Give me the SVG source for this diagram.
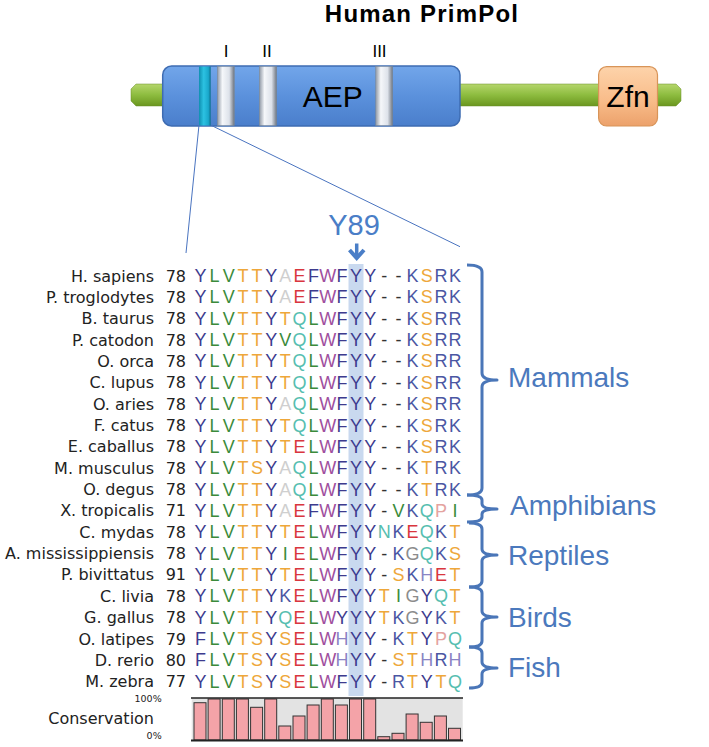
<svg xmlns="http://www.w3.org/2000/svg" width="709" height="747" viewBox="0 0 709 747">
<defs>
<linearGradient id="blueG" x1="0" y1="0" x2="0" y2="1"><stop offset="0" stop-color="#72a6ea"/><stop offset="0.5" stop-color="#5b91dc"/><stop offset="1" stop-color="#4a7ecb"/></linearGradient>
<linearGradient id="greyG" x1="0" y1="0" x2="1" y2="0"><stop offset="0" stop-color="#8f98a5"/><stop offset="0.3" stop-color="#f5f7fa"/><stop offset="0.7" stop-color="#dde2ea"/><stop offset="1" stop-color="#6c7480"/></linearGradient>
<linearGradient id="tealG" x1="0" y1="0" x2="1" y2="0"><stop offset="0" stop-color="#0f8fb0"/><stop offset="0.4" stop-color="#2cc2e2"/><stop offset="0.8" stop-color="#1aa8cc"/><stop offset="1" stop-color="#0b6f8c"/></linearGradient>
<linearGradient id="greenG" x1="0" y1="0" x2="0" y2="1"><stop offset="0" stop-color="#b5d66c"/><stop offset="0.5" stop-color="#8dbc3f"/><stop offset="1" stop-color="#6a961f"/></linearGradient>
<linearGradient id="zfnG" x1="0" y1="0" x2="0" y2="1"><stop offset="0" stop-color="#fdd3aa"/><stop offset="0.6" stop-color="#f8bb88"/><stop offset="1" stop-color="#eca16b"/></linearGradient>
</defs>
<style>
.lbl{font-family:"DejaVu Sans",sans-serif;font-size:16px;fill:#222}
.num{font-family:"DejaVu Sans",sans-serif;font-size:16px;fill:#222;text-anchor:end}
.aa{font-family:"Liberation Sans",Arial,sans-serif;font-size:18px;text-anchor:middle}
.Y,.F{fill:#3d3b8e}
.L,.V,.I{fill:#3b8b3b}
.T,.S{fill:#eea73a}
.A{fill:#cfcfcf}
.E{fill:#d9363e}
.W{fill:#a04f9e}
.K,.R{fill:#4b57a3}
.Q,.N{fill:#56beb0}
.G{fill:#8c8c8c}
.P{fill:#e4a3a0}
.H{fill:#8a84c4}
.g{fill:#333}
.grp{font-family:"Liberation Sans",Arial,sans-serif;font-size:28px;fill:#4b79bd}
.brace{fill:none;stroke:#4a76b8;stroke-width:3;stroke-linejoin:round}
.zl{stroke:#4a74c0;stroke-width:1;fill:none}
.bar{fill:#f4a3a8;stroke:#333;stroke-width:1}
.band{stroke:#7d8794;stroke-width:0.5}
</style>
<rect width="709" height="747" fill="#fff"/>

<g id="title"><text x="422" y="22" font-family="Liberation Sans,Arial,sans-serif" font-size="24" font-weight="bold" letter-spacing="1.2" text-anchor="middle" fill="#000">Human PrimPol</text></g>

<g id="protein">
<path d="M136,84 L676,84 L681,89 L681,101 L676,106 L136,106 L131,101 L131,89 Z" fill="url(#greenG)" stroke="#6a8f2a" stroke-width="0.5"/>
<rect x="162.7" y="66" width="297.3" height="60" rx="9" fill="url(#blueG)" stroke="#3e6cb2" stroke-width="1.5"/>
<rect x="199" y="66.5" width="11.7" height="59" fill="url(#tealG)"/>
<rect x="217.3" y="66.5" width="17" height="59" fill="url(#greyG)" class="band"/>
<rect x="259.3" y="66.5" width="17.4" height="59" fill="url(#greyG)" class="band"/>
<rect x="375.7" y="66.5" width="17" height="59" fill="url(#greyG)" class="band"/>
<text x="332.7" y="107" font-family="Liberation Sans,Arial,sans-serif" font-size="30" text-anchor="middle" fill="#000">AEP</text>
<g font-family="Liberation Sans,Arial,sans-serif" font-size="17" text-anchor="middle" fill="#000">
<text x="226" y="57">I</text><text x="267" y="57">II</text><text x="379.5" y="57">III</text>
</g>
<rect x="598.6" y="66.7" width="58.9" height="59.3" rx="8" fill="url(#zfnG)" stroke="#d89458" stroke-width="1.2"/>
<text x="628" y="107" font-family="Liberation Sans,Arial,sans-serif" font-size="30" text-anchor="middle" fill="#000">Zfn</text>
</g>

<g id="highlight"><rect x="348.5" y="264" width="15" height="432" fill="#c9d9ef"/></g>

<g id="alignment">
<g id="row-h-sapiens"><text class="lbl" x="154" y="281.5" text-anchor="end">H. sapiens</text><text class="num" x="186" y="281.5">78</text><text class="aa" y="282" x="200.5 214.6 228.8 242.9 257.1 271.2 285.3 299.5 313.6 327.8 341.9 356 370.2 384.3 398.5 412.6 426.7 440.9 455"><tspan class="Y">Y</tspan><tspan class="L">L</tspan><tspan class="V">V</tspan><tspan class="T">T</tspan><tspan class="T">T</tspan><tspan class="Y">Y</tspan><tspan class="A">A</tspan><tspan class="E">E</tspan><tspan class="F">F</tspan><tspan class="W">W</tspan><tspan class="F">F</tspan><tspan class="Y">Y</tspan><tspan class="Y">Y</tspan><tspan class="g">-</tspan><tspan class="g">-</tspan><tspan class="K">K</tspan><tspan class="S">S</tspan><tspan class="R">R</tspan><tspan class="K">K</tspan></text></g>
<g id="row-p-troglodytes"><text class="lbl" x="154" y="302.9" text-anchor="end">P. troglodytes</text><text class="num" x="186" y="302.9">78</text><text class="aa" y="303.4" x="200.5 214.6 228.8 242.9 257.1 271.2 285.3 299.5 313.6 327.8 341.9 356 370.2 384.3 398.5 412.6 426.7 440.9 455"><tspan class="Y">Y</tspan><tspan class="L">L</tspan><tspan class="V">V</tspan><tspan class="T">T</tspan><tspan class="T">T</tspan><tspan class="Y">Y</tspan><tspan class="A">A</tspan><tspan class="E">E</tspan><tspan class="F">F</tspan><tspan class="W">W</tspan><tspan class="F">F</tspan><tspan class="Y">Y</tspan><tspan class="Y">Y</tspan><tspan class="g">-</tspan><tspan class="g">-</tspan><tspan class="K">K</tspan><tspan class="S">S</tspan><tspan class="R">R</tspan><tspan class="K">K</tspan></text></g>
<g id="row-b-taurus"><text class="lbl" x="154" y="324.2" text-anchor="end">B. taurus</text><text class="num" x="186" y="324.2">78</text><text class="aa" y="324.7" x="200.5 214.6 228.8 242.9 257.1 271.2 285.3 299.5 313.6 327.8 341.9 356 370.2 384.3 398.5 412.6 426.7 440.9 455"><tspan class="Y">Y</tspan><tspan class="L">L</tspan><tspan class="V">V</tspan><tspan class="T">T</tspan><tspan class="T">T</tspan><tspan class="Y">Y</tspan><tspan class="T">T</tspan><tspan class="Q">Q</tspan><tspan class="L">L</tspan><tspan class="W">W</tspan><tspan class="F">F</tspan><tspan class="Y">Y</tspan><tspan class="Y">Y</tspan><tspan class="g">-</tspan><tspan class="g">-</tspan><tspan class="K">K</tspan><tspan class="S">S</tspan><tspan class="R">R</tspan><tspan class="R">R</tspan></text></g>
<g id="row-p-catodon"><text class="lbl" x="154" y="345.6" text-anchor="end">P. catodon</text><text class="num" x="186" y="345.6">78</text><text class="aa" y="346.1" x="200.5 214.6 228.8 242.9 257.1 271.2 285.3 299.5 313.6 327.8 341.9 356 370.2 384.3 398.5 412.6 426.7 440.9 455"><tspan class="Y">Y</tspan><tspan class="L">L</tspan><tspan class="V">V</tspan><tspan class="T">T</tspan><tspan class="T">T</tspan><tspan class="Y">Y</tspan><tspan class="V">V</tspan><tspan class="Q">Q</tspan><tspan class="L">L</tspan><tspan class="W">W</tspan><tspan class="F">F</tspan><tspan class="Y">Y</tspan><tspan class="Y">Y</tspan><tspan class="g">-</tspan><tspan class="g">-</tspan><tspan class="K">K</tspan><tspan class="S">S</tspan><tspan class="R">R</tspan><tspan class="R">R</tspan></text></g>
<g id="row-o-orca"><text class="lbl" x="154" y="366.9" text-anchor="end">O. orca</text><text class="num" x="186" y="366.9">78</text><text class="aa" y="367.4" x="200.5 214.6 228.8 242.9 257.1 271.2 285.3 299.5 313.6 327.8 341.9 356 370.2 384.3 398.5 412.6 426.7 440.9 455"><tspan class="Y">Y</tspan><tspan class="L">L</tspan><tspan class="V">V</tspan><tspan class="T">T</tspan><tspan class="T">T</tspan><tspan class="Y">Y</tspan><tspan class="T">T</tspan><tspan class="Q">Q</tspan><tspan class="L">L</tspan><tspan class="W">W</tspan><tspan class="F">F</tspan><tspan class="Y">Y</tspan><tspan class="Y">Y</tspan><tspan class="g">-</tspan><tspan class="g">-</tspan><tspan class="K">K</tspan><tspan class="S">S</tspan><tspan class="R">R</tspan><tspan class="R">R</tspan></text></g>
<g id="row-c-lupus"><text class="lbl" x="154" y="388.3" text-anchor="end">C. lupus</text><text class="num" x="186" y="388.3">78</text><text class="aa" y="388.8" x="200.5 214.6 228.8 242.9 257.1 271.2 285.3 299.5 313.6 327.8 341.9 356 370.2 384.3 398.5 412.6 426.7 440.9 455"><tspan class="Y">Y</tspan><tspan class="L">L</tspan><tspan class="V">V</tspan><tspan class="T">T</tspan><tspan class="T">T</tspan><tspan class="Y">Y</tspan><tspan class="T">T</tspan><tspan class="Q">Q</tspan><tspan class="L">L</tspan><tspan class="W">W</tspan><tspan class="F">F</tspan><tspan class="Y">Y</tspan><tspan class="Y">Y</tspan><tspan class="g">-</tspan><tspan class="g">-</tspan><tspan class="K">K</tspan><tspan class="S">S</tspan><tspan class="R">R</tspan><tspan class="R">R</tspan></text></g>
<g id="row-o-aries"><text class="lbl" x="154" y="409.6" text-anchor="end">O. aries</text><text class="num" x="186" y="409.6">78</text><text class="aa" y="410.1" x="200.5 214.6 228.8 242.9 257.1 271.2 285.3 299.5 313.6 327.8 341.9 356 370.2 384.3 398.5 412.6 426.7 440.9 455"><tspan class="Y">Y</tspan><tspan class="L">L</tspan><tspan class="V">V</tspan><tspan class="T">T</tspan><tspan class="T">T</tspan><tspan class="Y">Y</tspan><tspan class="A">A</tspan><tspan class="Q">Q</tspan><tspan class="L">L</tspan><tspan class="W">W</tspan><tspan class="F">F</tspan><tspan class="Y">Y</tspan><tspan class="Y">Y</tspan><tspan class="g">-</tspan><tspan class="g">-</tspan><tspan class="K">K</tspan><tspan class="S">S</tspan><tspan class="R">R</tspan><tspan class="R">R</tspan></text></g>
<g id="row-f-catus"><text class="lbl" x="154" y="431" text-anchor="end">F. catus</text><text class="num" x="186" y="431">78</text><text class="aa" y="431.5" x="200.5 214.6 228.8 242.9 257.1 271.2 285.3 299.5 313.6 327.8 341.9 356 370.2 384.3 398.5 412.6 426.7 440.9 455"><tspan class="Y">Y</tspan><tspan class="L">L</tspan><tspan class="V">V</tspan><tspan class="T">T</tspan><tspan class="T">T</tspan><tspan class="Y">Y</tspan><tspan class="T">T</tspan><tspan class="Q">Q</tspan><tspan class="L">L</tspan><tspan class="W">W</tspan><tspan class="F">F</tspan><tspan class="Y">Y</tspan><tspan class="Y">Y</tspan><tspan class="g">-</tspan><tspan class="g">-</tspan><tspan class="K">K</tspan><tspan class="S">S</tspan><tspan class="R">R</tspan><tspan class="K">K</tspan></text></g>
<g id="row-e-caballus"><text class="lbl" x="154" y="452.3" text-anchor="end">E. caballus</text><text class="num" x="186" y="452.3">78</text><text class="aa" y="452.8" x="200.5 214.6 228.8 242.9 257.1 271.2 285.3 299.5 313.6 327.8 341.9 356 370.2 384.3 398.5 412.6 426.7 440.9 455"><tspan class="Y">Y</tspan><tspan class="L">L</tspan><tspan class="V">V</tspan><tspan class="T">T</tspan><tspan class="T">T</tspan><tspan class="Y">Y</tspan><tspan class="T">T</tspan><tspan class="E">E</tspan><tspan class="L">L</tspan><tspan class="W">W</tspan><tspan class="F">F</tspan><tspan class="Y">Y</tspan><tspan class="Y">Y</tspan><tspan class="g">-</tspan><tspan class="g">-</tspan><tspan class="K">K</tspan><tspan class="S">S</tspan><tspan class="R">R</tspan><tspan class="K">K</tspan></text></g>
<g id="row-m-musculus"><text class="lbl" x="154" y="473.7" text-anchor="end">M. musculus</text><text class="num" x="186" y="473.7">78</text><text class="aa" y="474.2" x="200.5 214.6 228.8 242.9 257.1 271.2 285.3 299.5 313.6 327.8 341.9 356 370.2 384.3 398.5 412.6 426.7 440.9 455"><tspan class="Y">Y</tspan><tspan class="L">L</tspan><tspan class="V">V</tspan><tspan class="T">T</tspan><tspan class="S">S</tspan><tspan class="Y">Y</tspan><tspan class="A">A</tspan><tspan class="Q">Q</tspan><tspan class="L">L</tspan><tspan class="W">W</tspan><tspan class="F">F</tspan><tspan class="Y">Y</tspan><tspan class="Y">Y</tspan><tspan class="g">-</tspan><tspan class="g">-</tspan><tspan class="K">K</tspan><tspan class="T">T</tspan><tspan class="R">R</tspan><tspan class="K">K</tspan></text></g>
<g id="row-o-degus"><text class="lbl" x="154" y="495" text-anchor="end">O. degus</text><text class="num" x="186" y="495">78</text><text class="aa" y="495.5" x="200.5 214.6 228.8 242.9 257.1 271.2 285.3 299.5 313.6 327.8 341.9 356 370.2 384.3 398.5 412.6 426.7 440.9 455"><tspan class="Y">Y</tspan><tspan class="L">L</tspan><tspan class="V">V</tspan><tspan class="T">T</tspan><tspan class="T">T</tspan><tspan class="Y">Y</tspan><tspan class="A">A</tspan><tspan class="Q">Q</tspan><tspan class="L">L</tspan><tspan class="W">W</tspan><tspan class="F">F</tspan><tspan class="Y">Y</tspan><tspan class="Y">Y</tspan><tspan class="g">-</tspan><tspan class="g">-</tspan><tspan class="K">K</tspan><tspan class="T">T</tspan><tspan class="R">R</tspan><tspan class="K">K</tspan></text></g>
<g id="row-x-tropicalis"><text class="lbl" x="154" y="516.4" text-anchor="end">X. tropicalis</text><text class="num" x="186" y="516.4">71</text><text class="aa" y="516.9" x="200.5 214.6 228.8 242.9 257.1 271.2 285.3 299.5 313.6 327.8 341.9 356 370.2 384.3 398.5 412.6 426.7 440.9 455"><tspan class="Y">Y</tspan><tspan class="L">L</tspan><tspan class="V">V</tspan><tspan class="T">T</tspan><tspan class="T">T</tspan><tspan class="Y">Y</tspan><tspan class="A">A</tspan><tspan class="E">E</tspan><tspan class="F">F</tspan><tspan class="W">W</tspan><tspan class="F">F</tspan><tspan class="Y">Y</tspan><tspan class="Y">Y</tspan><tspan class="g">-</tspan><tspan class="V">V</tspan><tspan class="K">K</tspan><tspan class="Q">Q</tspan><tspan class="P">P</tspan><tspan class="I">I</tspan></text></g>
<g id="row-c-mydas"><text class="lbl" x="154" y="537.7" text-anchor="end">C. mydas</text><text class="num" x="186" y="537.7">78</text><text class="aa" y="538.2" x="200.5 214.6 228.8 242.9 257.1 271.2 285.3 299.5 313.6 327.8 341.9 356 370.2 384.3 398.5 412.6 426.7 440.9 455"><tspan class="Y">Y</tspan><tspan class="L">L</tspan><tspan class="V">V</tspan><tspan class="T">T</tspan><tspan class="T">T</tspan><tspan class="Y">Y</tspan><tspan class="T">T</tspan><tspan class="E">E</tspan><tspan class="L">L</tspan><tspan class="W">W</tspan><tspan class="F">F</tspan><tspan class="Y">Y</tspan><tspan class="Y">Y</tspan><tspan class="N">N</tspan><tspan class="K">K</tspan><tspan class="E">E</tspan><tspan class="Q">Q</tspan><tspan class="K">K</tspan><tspan class="T">T</tspan></text></g>
<g id="row-a-mississippiensis"><text class="lbl" x="154" y="559.1" text-anchor="end">A. mississippiensis</text><text class="num" x="186" y="559.1">78</text><text class="aa" y="559.6" x="200.5 214.6 228.8 242.9 257.1 271.2 285.3 299.5 313.6 327.8 341.9 356 370.2 384.3 398.5 412.6 426.7 440.9 455"><tspan class="Y">Y</tspan><tspan class="L">L</tspan><tspan class="V">V</tspan><tspan class="T">T</tspan><tspan class="T">T</tspan><tspan class="Y">Y</tspan><tspan class="I">I</tspan><tspan class="E">E</tspan><tspan class="L">L</tspan><tspan class="W">W</tspan><tspan class="F">F</tspan><tspan class="Y">Y</tspan><tspan class="Y">Y</tspan><tspan class="g">-</tspan><tspan class="K">K</tspan><tspan class="G">G</tspan><tspan class="Q">Q</tspan><tspan class="K">K</tspan><tspan class="S">S</tspan></text></g>
<g id="row-p-bivittatus"><text class="lbl" x="154" y="580.4" text-anchor="end">P. bivittatus</text><text class="num" x="186" y="580.4">91</text><text class="aa" y="580.9" x="200.5 214.6 228.8 242.9 257.1 271.2 285.3 299.5 313.6 327.8 341.9 356 370.2 384.3 398.5 412.6 426.7 440.9 455"><tspan class="Y">Y</tspan><tspan class="L">L</tspan><tspan class="V">V</tspan><tspan class="T">T</tspan><tspan class="T">T</tspan><tspan class="Y">Y</tspan><tspan class="T">T</tspan><tspan class="E">E</tspan><tspan class="L">L</tspan><tspan class="W">W</tspan><tspan class="F">F</tspan><tspan class="Y">Y</tspan><tspan class="Y">Y</tspan><tspan class="g">-</tspan><tspan class="S">S</tspan><tspan class="K">K</tspan><tspan class="H">H</tspan><tspan class="E">E</tspan><tspan class="T">T</tspan></text></g>
<g id="row-c-livia"><text class="lbl" x="154" y="601.8" text-anchor="end">C. livia</text><text class="num" x="186" y="601.8">78</text><text class="aa" y="602.3" x="200.5 214.6 228.8 242.9 257.1 271.2 285.3 299.5 313.6 327.8 341.9 356 370.2 384.3 398.5 412.6 426.7 440.9 455"><tspan class="Y">Y</tspan><tspan class="L">L</tspan><tspan class="V">V</tspan><tspan class="T">T</tspan><tspan class="T">T</tspan><tspan class="Y">Y</tspan><tspan class="K">K</tspan><tspan class="E">E</tspan><tspan class="L">L</tspan><tspan class="W">W</tspan><tspan class="F">F</tspan><tspan class="Y">Y</tspan><tspan class="Y">Y</tspan><tspan class="T">T</tspan><tspan class="I">I</tspan><tspan class="G">G</tspan><tspan class="Y">Y</tspan><tspan class="Q">Q</tspan><tspan class="T">T</tspan></text></g>
<g id="row-g-gallus"><text class="lbl" x="154" y="623.1" text-anchor="end">G. gallus</text><text class="num" x="186" y="623.1">78</text><text class="aa" y="623.6" x="200.5 214.6 228.8 242.9 257.1 271.2 285.3 299.5 313.6 327.8 341.9 356 370.2 384.3 398.5 412.6 426.7 440.9 455"><tspan class="Y">Y</tspan><tspan class="L">L</tspan><tspan class="V">V</tspan><tspan class="T">T</tspan><tspan class="T">T</tspan><tspan class="Y">Y</tspan><tspan class="Q">Q</tspan><tspan class="E">E</tspan><tspan class="L">L</tspan><tspan class="W">W</tspan><tspan class="Y">Y</tspan><tspan class="Y">Y</tspan><tspan class="Y">Y</tspan><tspan class="T">T</tspan><tspan class="K">K</tspan><tspan class="G">G</tspan><tspan class="Y">Y</tspan><tspan class="K">K</tspan><tspan class="T">T</tspan></text></g>
<g id="row-o-latipes"><text class="lbl" x="154" y="644.5" text-anchor="end">O. latipes</text><text class="num" x="186" y="644.5">79</text><text class="aa" y="645" x="200.5 214.6 228.8 242.9 257.1 271.2 285.3 299.5 313.6 327.8 341.9 356 370.2 384.3 398.5 412.6 426.7 440.9 455"><tspan class="F">F</tspan><tspan class="L">L</tspan><tspan class="V">V</tspan><tspan class="T">T</tspan><tspan class="S">S</tspan><tspan class="Y">Y</tspan><tspan class="S">S</tspan><tspan class="E">E</tspan><tspan class="L">L</tspan><tspan class="W">W</tspan><tspan class="H">H</tspan><tspan class="Y">Y</tspan><tspan class="Y">Y</tspan><tspan class="g">-</tspan><tspan class="K">K</tspan><tspan class="T">T</tspan><tspan class="Y">Y</tspan><tspan class="P">P</tspan><tspan class="Q">Q</tspan></text></g>
<g id="row-d-rerio"><text class="lbl" x="154" y="665.8" text-anchor="end">D. rerio</text><text class="num" x="186" y="665.8">80</text><text class="aa" y="666.3" x="200.5 214.6 228.8 242.9 257.1 271.2 285.3 299.5 313.6 327.8 341.9 356 370.2 384.3 398.5 412.6 426.7 440.9 455"><tspan class="F">F</tspan><tspan class="L">L</tspan><tspan class="V">V</tspan><tspan class="T">T</tspan><tspan class="S">S</tspan><tspan class="Y">Y</tspan><tspan class="S">S</tspan><tspan class="E">E</tspan><tspan class="L">L</tspan><tspan class="W">W</tspan><tspan class="H">H</tspan><tspan class="Y">Y</tspan><tspan class="Y">Y</tspan><tspan class="g">-</tspan><tspan class="S">S</tspan><tspan class="T">T</tspan><tspan class="H">H</tspan><tspan class="R">R</tspan><tspan class="H">H</tspan></text></g>
<g id="row-m-zebra"><text class="lbl" x="154" y="687.2" text-anchor="end">M. zebra</text><text class="num" x="186" y="687.2">77</text><text class="aa" y="687.7" x="200.5 214.6 228.8 242.9 257.1 271.2 285.3 299.5 313.6 327.8 341.9 356 370.2 384.3 398.5 412.6 426.7 440.9 455"><tspan class="Y">Y</tspan><tspan class="L">L</tspan><tspan class="V">V</tspan><tspan class="T">T</tspan><tspan class="S">S</tspan><tspan class="Y">Y</tspan><tspan class="S">S</tspan><tspan class="E">E</tspan><tspan class="L">L</tspan><tspan class="W">W</tspan><tspan class="F">F</tspan><tspan class="Y">Y</tspan><tspan class="Y">Y</tspan><tspan class="g">-</tspan><tspan class="R">R</tspan><tspan class="T">T</tspan><tspan class="Y">Y</tspan><tspan class="T">T</tspan><tspan class="Q">Q</tspan></text></g>
</g>

<g id="conservation">
<rect x="191.7" y="698" width="271" height="42" fill="#e3e3e3"/>
<rect class="bar" x="194" y="702.7" width="12" height="37.3"/>
<rect class="bar" x="208.1" y="699" width="12" height="41"/>
<rect class="bar" x="222.3" y="699" width="12" height="41"/>
<rect class="bar" x="236.4" y="699" width="12" height="41"/>
<rect class="bar" x="250.6" y="707.3" width="12" height="32.7"/>
<rect class="bar" x="264.7" y="699" width="12" height="41"/>
<rect class="bar" x="278.8" y="726" width="12" height="14"/>
<rect class="bar" x="293" y="716" width="12" height="24"/>
<rect class="bar" x="307.1" y="705" width="12" height="35"/>
<rect class="bar" x="321.3" y="699" width="12" height="41"/>
<rect class="bar" x="335.4" y="705" width="12" height="35"/>
<rect class="bar" x="349.5" y="699" width="12" height="41"/>
<rect class="bar" x="363.7" y="699" width="12" height="41"/>
<rect class="bar" x="377.8" y="736.7" width="12" height="3.3"/>
<rect class="bar" x="392" y="733.3" width="12" height="6.7"/>
<rect class="bar" x="406.1" y="714" width="12" height="26"/>
<rect class="bar" x="420.2" y="722.3" width="12" height="17.7"/>
<rect class="bar" x="434.4" y="716" width="12" height="24"/>
<rect class="bar" x="448.5" y="728.3" width="12" height="11.7"/>
<line x1="191" y1="698" x2="463" y2="698" stroke="#222" stroke-width="1.5"/>
<line x1="191" y1="740.5" x2="463" y2="740.5" stroke="#222" stroke-width="2"/>
<text x="161.7" y="701.5" font-family="DejaVu Sans,sans-serif" font-size="9.5" text-anchor="end" fill="#222">100%</text>
<text x="154" y="724" class="lbl" text-anchor="end">Conservation</text>
<text x="161.7" y="738.5" font-family="DejaVu Sans,sans-serif" font-size="9.5" text-anchor="end" fill="#222">0%</text>
</g>

<g id="connectors">
<line class="zl" x1="199" y1="125" x2="186" y2="253"/>
<line class="zl" x1="211.5" y1="125.5" x2="460" y2="246.7"/>
<path class="brace" d="M467,265 Q482,265 482,272 L482,373 Q482,380 497,380 Q482,380 482,387 L482,488 Q482,495 467,495"/>
<path class="brace" d="M467,495 Q482,495 482,500 L482,504 Q482,509 497,509 Q482,509 482,514 L482,517 Q482,522 467,522"/>
<path class="brace" d="M469,523 Q482,523 482,529 L482,549 Q482,555 497,555 Q482,555 482,561 L482,581 Q482,587 469,587"/>
<path class="brace" d="M469,587 Q482,587 482,593 L482,611 Q482,617 497,617 Q482,617 482,623 L482,641 Q482,647 469,647"/>
<path class="brace" d="M469,647 Q482,647 482,653 L482,662 Q482,668 497,668 Q482,668 482,674 L482,682 Q482,688 469,688"/>
<line x1="356.7" y1="243.5" x2="356.7" y2="257" stroke="#4a7ec7" stroke-width="3.5"/>
<polyline points="349.5,250 356.7,258 364,250" fill="none" stroke="#4a7ec7" stroke-width="4"/>
</g>

<g id="labels">
<text x="354" y="235" font-family="Liberation Sans,Arial,sans-serif" font-size="29" text-anchor="middle" fill="#4a7ec7">Y89</text>
<text class="grp" x="508" y="387">Mammals</text>
<text class="grp" x="510" y="515">Amphibians</text>
<text class="grp" x="508" y="565">Reptiles</text>
<text class="grp" x="508" y="627">Birds</text>
<text class="grp" x="508" y="677">Fish</text>
</g>
</svg>
